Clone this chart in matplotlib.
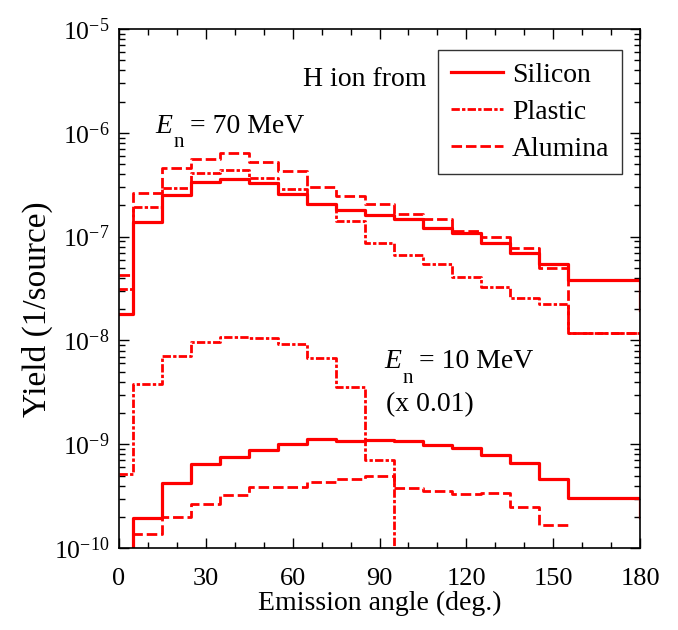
import numpy as np
import matplotlib
matplotlib.use("Agg")
import matplotlib.pyplot as plt
from matplotlib.ticker import LogLocator, MultipleLocator, NullFormatter, FuncFormatter

plt.rcParams['font.family'] = ['Liberation Serif', 'DejaVu Serif']
plt.rcParams['mathtext.fontset'] = 'custom'
plt.rcParams['mathtext.rm'] = 'Liberation Serif'
plt.rcParams['mathtext.it'] = 'Liberation Serif:italic'

# bin edges (deg)
edges = [0, 5, 15, 25, 35, 45, 55, 65, 75, 85, 95, 105, 115, 125, 135, 145, 155, 180]

# En = 70 MeV
si70 = [1.8e-8, 1.38e-7, 2.5e-7, 3.36e-7, 3.59e-7, 3.31e-7, 2.57e-7, 2.06e-7, 1.79e-7, 1.6e-7,
        1.48e-7, 1.2e-7, 1.09e-7, 8.75e-8, 7.0e-8, 5.4e-8, 3.82e-8]
pl70 = [3.1e-8, 1.91e-7, 2.94e-7, 4.07e-7, 4.35e-7, 3.67e-7, 2.85e-7, 2.06e-7, 1.42e-7, 8.6e-8,
        6.65e-8, 5.4e-8, 4.05e-8, 3.3e-8, 2.54e-8, 2.23e-8, 1.17e-8]
al70 = [4.3e-8, 2.65e-7, 4.55e-7, 5.6e-7, 6.34e-7, 5.19e-7, 4.26e-7, 3.02e-7, 2.44e-7, 2.05e-7,
        1.64e-7, 1.47e-7, 1.14e-7, 9.85e-8, 7.7e-8, 4.95e-8, 1.17e-8]
si70_end = 1.96e-8
pl70_end = 7.0e-9
al70_end = 7.0e-9

# En = 10 MeV (x 0.01)
si10 = [5e-11, 1.93e-10, 4.23e-10, 6.44e-10, 7.58e-10, 8.8e-10, 1.0e-9, 1.12e-9, 1.08e-9, 1.11e-9,
        1.08e-9, 9.74e-10, 9.18e-10, 7.81e-10, 6.53e-10, 4.59e-10, 3.01e-10]
si10_end = 2.0e-10
pl10_edges = [0, 5, 15, 25, 35, 45, 55, 65, 75, 85, 95]
pl10 = [5.16e-10, 3.8e-9, 7.08e-9, 9.58e-9, 1.09e-8, 1.05e-8, 9.16e-9, 6.71e-9, 3.6e-9, 7.05e-10]
pl10_end = 1e-12
al10_edges = [0, 5, 15, 25, 35, 45, 55, 65, 75, 85, 95, 105, 115, 125, 135, 145, 155]
al10 = [5e-11, 1.36e-10, 2.0e-10, 2.65e-10, 3.24e-10, 3.85e-10, 3.85e-10, 4.3e-10, 4.6e-10, 4.97e-10,
        3.81e-10, 3.54e-10, 3.31e-10, 3.36e-10, 2.5e-10, 1.67e-10]

labels = ["Silicon", "Plastic", "Alumina"]

fig = plt.figure(figsize=(6.78, 6.30), dpi=100)
ax = fig.add_axes([0.1755, 0.130, 0.7685, 0.824])

red = '#ff0000'
solid = dict(color=red, lw=2.3, linestyle='-')
dashdot = dict(color=red, lw=2.0, linestyle=(0, (3.0, 0.8, 1.2, 0.8)))
dashed = dict(color=red, lw=2.0, linestyle=(0, (3.8, 1.4)))


def stairs(e, v, end=None, **kw):
    x = list(e[:-1]) + [e[-1]]
    y = list(v) + [v[-1]]
    if end is not None:
        x = x + [e[-1]]
        y = y + [end]
    return ax.step(x, y, where='post', **kw)


h1, = stairs(edges, si70, si70_end, **solid)
h2, = stairs(edges, pl70, pl70_end, **dashdot)
h3, = stairs(edges, al70, al70_end, **dashed)
stairs(edges, si10, si10_end, **solid)
stairs(pl10_edges, pl10, pl10_end, **dashdot)
stairs(al10_edges, al10, None, **dashed)

ax.set_yscale('log')
ax.set_xlim(0, 180)
ax.set_ylim(1e-10, 1e-5)

ax.xaxis.set_major_locator(MultipleLocator(30))
ax.xaxis.set_minor_locator(MultipleLocator(10))
ax.yaxis.set_major_locator(LogLocator(base=10, numticks=20))
ax.yaxis.set_minor_locator(LogLocator(base=10, subs=np.arange(2, 10), numticks=20))
ax.yaxis.set_minor_formatter(NullFormatter())
ax.yaxis.set_major_formatter(FuncFormatter(lambda v, p: r'$\mathrm{10^{-%d}}$' % round(-np.log10(v))))

ax.tick_params(which='both', direction='in', top=True, right=True, width=1.0)
ax.tick_params(which='major', length=7)
ax.tick_params(which='minor', length=4.3)
ax.tick_params(axis='x', pad=14, labelsize=19)
ax.tick_params(axis='y', pad=7, labelsize=18.5)
for s in ax.spines.values():
    s.set_linewidth(1.2)

ax.set_xlabel('Emission angle (deg.)', fontsize=20, labelpad=1)
fig.text(37 / 678, 1 - 309 / 630, 'Yield (1/source)', fontsize=24, rotation=90,
         ha='center', va='center')

ax.text(0.069, 0.800, r'$E$', transform=ax.transAxes, fontsize=20, ha='left', va='baseline')
ax.text(0.104, 0.773, 'n', transform=ax.transAxes, fontsize=15, ha='left', va='baseline')
ax.text(0.136, 0.800, '= 70 MeV', transform=ax.transAxes, fontsize=20, ha='left', va='baseline')

ax.text(0.509, 0.346, r'$E$', transform=ax.transAxes, fontsize=20, ha='left', va='baseline')
ax.text(0.545, 0.318, 'n', transform=ax.transAxes, fontsize=15, ha='left', va='baseline')
ax.text(0.576, 0.346, '= 10 MeV', transform=ax.transAxes, fontsize=20, ha='left', va='baseline')
ax.text(0.512, 0.264, '(x 0.01)', transform=ax.transAxes, fontsize=20, ha='left', va='baseline')

ax.text(0.590, 0.891, 'H ion from', transform=ax.transAxes, fontsize=20, ha='right', va='baseline')

leg = ax.legend([h1, h2, h3], labels, loc='upper right', bbox_to_anchor=(0.965, 0.960),
                borderaxespad=0, fontsize=20, frameon=True, fancybox=False,
                handlelength=1.9, handletextpad=0.3, labelspacing=0.42, borderpad=0.45)
leg.get_frame().set_edgecolor('black')
leg.get_frame().set_linewidth(1.0)

fig.savefig('out.png', dpi=100)
